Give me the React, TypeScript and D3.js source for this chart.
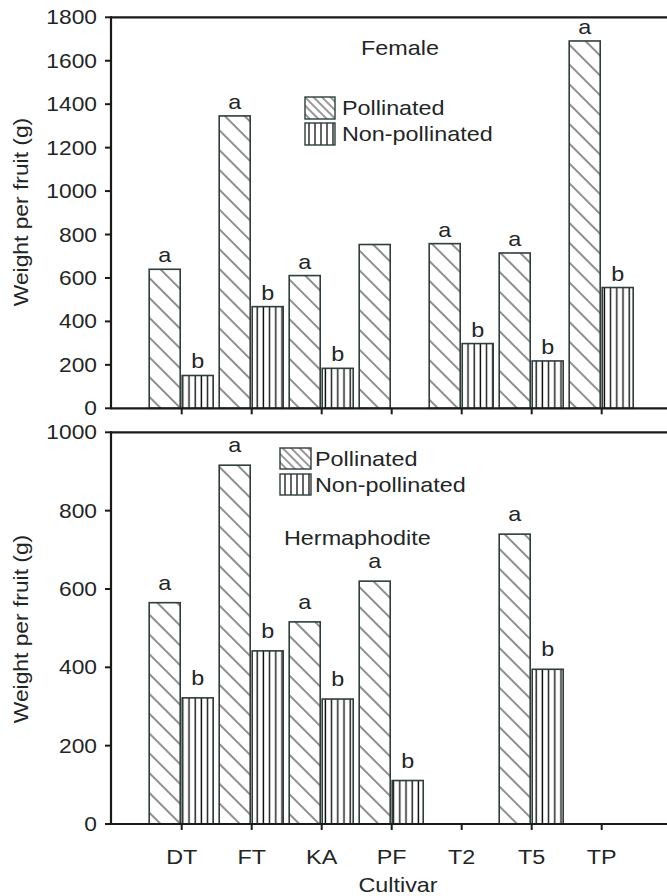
import React from "react";
import * as d3 from "d3";

const categories = ["DT", "FT", "KA", "PF", "T2", "T5", "TP"];
const seriesNames = ["Pollinated", "Non-pollinated"];

const femalePollinated = [640, 1346, 611, 754, 758, 715, 1691];
const femaleNonPollinated = [151, 468, 184, null, 298, 218, 556];
const femalePollinatedLetters = ["a", "a", "a", "", "a", "a", "a"];
const femaleNonPollinatedLetters = ["b", "b", "b", "", "b", "b", "b"];

const hermPollinated = [565, 916, 516, 620, null, 740, null];
const hermNonPollinated = [322, 442, 319, 111, null, 395, null];
const hermPollinatedLetters = ["a", "a", "a", "a", "", "a", ""];
const hermNonPollinatedLetters = ["b", "b", "b", "b", "", "b", ""];

const femaleTicks = [0, 200, 400, 600, 800, 1000, 1200, 1400, 1600, 1800];
const hermTicks = [0, 200, 400, 600, 800, 1000];

const W = 667;
const H = 896;
const AXIS_X = 111;
const SX = 1.14;
const FONT = "'Liberation Sans', Arial, Helvetica, sans-serif";
const TXT = "#1f2626";
const BAR_STROKE = "#2f3d3d";

type TProps = {
  x: number;
  y: number;
  anchor?: string;
  size?: number;
  rotate?: boolean;
  children: React.ReactNode;
};

function T({ x, y, anchor = "start", size = 20.5, rotate = false, children }: TProps) {
  return (
    <text
      transform={`translate(${x},${y})${rotate ? " rotate(-90)" : ""} scale(${SX},1)`}
      textAnchor={anchor}
      fontSize={size}
      fontFamily={FONT}
      fill={TXT}
    >
      {children}
    </text>
  );
}

const x0 = d3.scaleBand<string>().domain(categories).range([146.7, 636.7]);
const x1 = d3
  .scaleBand<string>()
  .domain(seriesNames)
  .range([2.5, 66.5])
  .paddingInner(2 / 33);

type PanelProps = {
  yMax: number;
  yBottom: number;
  yTop: number;
  ticks: number[];
  pol: (number | null)[];
  non: (number | null)[];
  polL: string[];
  nonL: string[];
  letterGap: number;
  legend: { x: number; y: number; w: number; h: number; gap: number; tx: number };
  title: { text: string; x: number; y: number };
  titleCenterY: number;
};

function Panel(p: PanelProps) {
  const y = d3.scaleLinear().domain([0, p.yMax]).range([p.yBottom, p.yTop]);
  const series = [
    { name: seriesNames[0], vals: p.pol, letters: p.polL, fill: "url(#diag)" },
    { name: seriesNames[1], vals: p.non, letters: p.nonL, fill: "url(#vert)" },
  ];
  const lg = p.legend;
  return (
    <g>
      {series.map((s) =>
        categories.map((c, i) => {
          const v = s.vals[i];
          if (v == null) return null;
          const bx = (x0(c) as number) + (x1(s.name) as number);
          const bw = x1.bandwidth();
          const top = y(v);
          return (
            <g key={s.name + c}>
              <rect
                x={bx}
                y={top}
                width={bw}
                height={y(0) - top}
                fill={s.fill}
                stroke={BAR_STROKE}
                strokeWidth={1.6}
              />
              {s.letters[i] ? (
                <T x={bx + bw / 2} y={top - p.letterGap} anchor="middle">
                  {s.letters[i]}
                </T>
              ) : null}
            </g>
          );
        })
      )}
      <line x1={AXIS_X} x2={W} y1={p.yTop} y2={p.yTop} stroke="#1a1a1a" strokeWidth={2.2} />
      <line x1={AXIS_X} x2={W} y1={p.yBottom} y2={p.yBottom} stroke="#1a1a1a" strokeWidth={2.2} />
      <line x1={AXIS_X} x2={AXIS_X} y1={p.yTop - 1} y2={p.yBottom + 1} stroke="#1a1a1a" strokeWidth={2.2} />
      {p.ticks.map((t) => (
        <g key={"yt" + t}>
          <line x1={AXIS_X - 6} x2={AXIS_X} y1={y(t)} y2={y(t)} stroke="#1a1a1a" strokeWidth={2} />
          <T x={AXIS_X - 14} y={y(t) + 7} anchor="end" size={20}>
            {t}
          </T>
        </g>
      ))}
      {categories.map((c) => {
        const cx = (x0(c) as number) + x0.bandwidth() / 2;
        return (
          <line key={"xt" + c} x1={cx} x2={cx} y1={p.yBottom} y2={p.yBottom + 6} stroke="#1a1a1a" strokeWidth={2} />
        );
      })}
      <rect x={lg.x} y={lg.y} width={lg.w} height={lg.h} fill="url(#diagS)" stroke={BAR_STROKE} strokeWidth={1.4} />
      <rect x={lg.x} y={lg.y + lg.gap} width={lg.w} height={lg.h} fill="url(#vertS)" stroke={BAR_STROKE} strokeWidth={1.4} />
      <T x={lg.tx} y={lg.y + lg.h / 2 + 7}>{seriesNames[0]}</T>
      <T x={lg.tx} y={lg.y + lg.gap + lg.h / 2 + 7}>{seriesNames[1]}</T>
      <T x={p.title.x} y={p.title.y}>{p.title.text}</T>
      <T x={28} y={p.titleCenterY} anchor="middle" size={20} rotate>
        Weight per fruit (g)
      </T>
    </g>
  );
}

export default function App() {
  return (
    <svg
      width={W}
      height={H}
      viewBox={`0 0 ${W} ${H}`}
      style={{ position: "absolute", left: 0, top: 0, background: "#fff" }}
    >
      <defs>
        <pattern id="diag" patternUnits="userSpaceOnUse" width={14} height={14} patternTransform="rotate(-45)">
          <rect width={14} height={14} fill="#fff" />
          <line x1={7} y1={-1} x2={7} y2={15} stroke="#333" strokeWidth={1.1} />
        </pattern>
        <pattern id="vert" patternUnits="userSpaceOnUse" width={6.2} height={10}>
          <rect width={6.2} height={10} fill="#fff" />
          <line x1={3} y1={-1} x2={3} y2={11} stroke="#111" strokeWidth={1.4} />
        </pattern>
        <pattern id="diagS" patternUnits="userSpaceOnUse" width={6} height={6} patternTransform="rotate(-45)">
          <rect width={6} height={6} fill="#fff" />
          <line x1={3} y1={-1} x2={3} y2={7} stroke="#333" strokeWidth={1} />
        </pattern>
        <pattern id="vertS" patternUnits="userSpaceOnUse" width={6} height={10}>
          <rect width={6} height={10} fill="#fff" />
          <line x1={3} y1={-1} x2={3} y2={11} stroke="#111" strokeWidth={1.3} />
        </pattern>
      </defs>
      <rect width={W} height={H} fill="#fff" />
      <Panel
        yMax={1800}
        yBottom={408.3}
        yTop={17.3}
        ticks={femaleTicks}
        pol={femalePollinated}
        non={femaleNonPollinated}
        polL={femalePollinatedLetters}
        nonL={femaleNonPollinatedLetters}
        letterGap={7}
        legend={{ x: 305, y: 97, w: 30, h: 22, gap: 26, tx: 342 }}
        title={{ text: "Female", x: 361, y: 55 }}
        titleCenterY={212}
      />
      <Panel
        yMax={1000}
        yBottom={824}
        yTop={432.3}
        ticks={hermTicks}
        pol={hermPollinated}
        non={hermNonPollinated}
        polL={hermPollinatedLetters}
        nonL={hermNonPollinatedLetters}
        letterGap={13}
        legend={{ x: 280, y: 448, w: 31, h: 21, gap: 26, tx: 315 }}
        title={{ text: "Hermaphodite", x: 284, y: 545 }}
        titleCenterY={629}
      />
      {categories.map((c) => (
        <T key={"xl" + c} x={(x0(c) as number) + x0.bandwidth() / 2} y={864} anchor="middle">
          {c}
        </T>
      ))}
      <T x={398} y={892} anchor="middle">
        Cultivar
      </T>
    </svg>
  );
}
